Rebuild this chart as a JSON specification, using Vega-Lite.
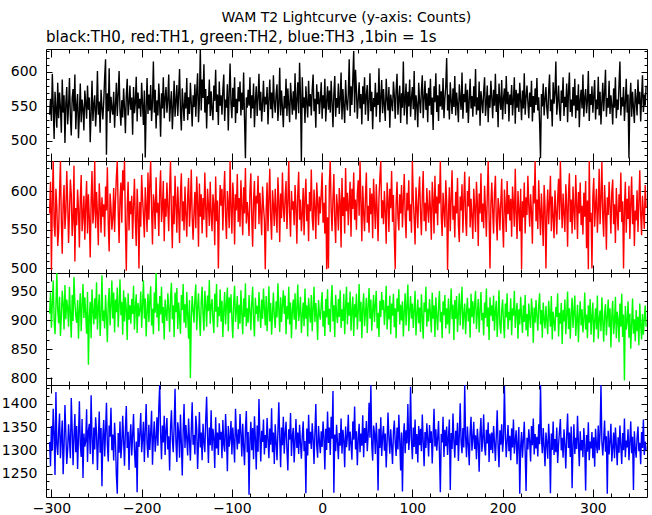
{
"$schema":"https://vega.github.io/schema/vega-lite/v6.json",
"background":"#ffffff",
"padding":{"left":0,"top":11,"right":6,"bottom":2},
"title":{"text":"WAM T2 Lightcurve (y-axis: Counts)","anchor":"middle","fontSize":14,"offset":4,"dx":22},
"config":{
 "view":{"stroke":"#000000","strokeWidth":1},
 "axis":{"grid":false,"domain":false,"tickColor":"#000000","tickWidth":1,"labelColor":"#000000","labelFont":"DejaVu Sans","labelFontSize":14,"labelOverlap":false,"labelFlush":false,"labelBound":false,"format":"d"},
 "title":{"font":"DejaVu Sans","fontWeight":"normal","color":"#000000"}
},
"data":{"values":[
{"t":-302,"a":538,"b":571,"c":912,"d":1318},{"t":-301,"a":561,"b":612,"c":948,"d":1266},{"t":-300,"a":529,"b":498,"c":887,"d":1352},{"t":-299,"a":597,"b":587,"c":930,"d":1301},{"t":-298,"a":552,"b":639,"c":969,"d":1389},{"t":-297,"a":503,"b":556,"c":901,"d":1334},{"t":-296,"a":571,"b":541,"c":876,"d":1247},{"t":-295,"a":546,"b":603,"c":925,"d":1425},{"t":-294,"a":519,"b":580,"c":982,"d":1312},{"t":-293,"a":584,"b":529,"c":918,"d":1290},
{"t":-292,"a":533,"b":548,"c":895,"d":1341},{"t":-291,"a":570,"b":597,"c":941,"d":1379},{"t":-290,"a":548,"b":639,"c":873,"d":1283},{"t":-289,"a":512,"b":562,"c":907,"d":1327},{"t":-288,"a":589,"b":519,"c":951,"d":1364},{"t":-287,"a":541,"b":584,"c":928,"d":1249},{"t":-286,"a":566,"b":608,"c":884,"d":1309},{"t":-285,"a":497,"b":551,"c":961,"d":1397},{"t":-284,"a":555,"b":573,"c":902,"d":1336},{"t":-283,"a":578,"b":626,"c":936,"d":1271},
{"t":-282,"a":524,"b":587,"c":922,"d":1301},{"t":-281,"a":549,"b":533,"c":889,"d":1356},{"t":-280,"a":591,"b":571,"c":958,"d":1322},{"t":-279,"a":536,"b":615,"c":913,"d":1283},{"t":-278,"a":508,"b":596,"c":870,"d":1412},{"t":-277,"a":562,"b":542,"c":944,"d":1345},{"t":-276,"a":575,"b":563,"c":899,"d":1268},{"t":-275,"a":543,"b":633,"c":975,"d":1330},{"t":-274,"a":596,"b":509,"c":931,"d":1378},{"t":-273,"a":517,"b":578,"c":908,"d":1296},
{"t":-272,"a":551,"b":556,"c":896,"d":1352},{"t":-271,"a":568,"b":602,"c":935,"d":1260},{"t":-270,"a":504,"b":577,"c":868,"d":1329},{"t":-269,"a":539,"b":527,"c":919,"d":1405},{"t":-268,"a":583,"b":589,"c":947,"d":1313},{"t":-267,"a":527,"b":621,"c":881,"d":1286},{"t":-266,"a":560,"b":548,"c":927,"d":1367},{"t":-265,"a":547,"b":569,"c":963,"d":1241},{"t":-264,"a":515,"b":594,"c":904,"d":1336},{"t":-263,"a":573,"b":537,"c":940,"d":1308},
{"t":-262,"a":556,"b":581,"c":911,"d":1319},{"t":-261,"a":532,"b":613,"c":877,"d":1388},{"t":-260,"a":580,"b":545,"c":949,"d":1275},{"t":-259,"a":545,"b":596,"c":823,"d":1342},{"t":-258,"a":563,"b":565,"c":906,"d":1357},{"t":-257,"a":498,"b":514,"c":932,"d":1292},{"t":-256,"a":541,"b":587,"c":869,"d":1418},{"t":-255,"a":587,"b":626,"c":954,"d":1326},{"t":-254,"a":529,"b":558,"c":916,"d":1270},{"t":-253,"a":553,"b":574,"c":893,"d":1349},
{"t":-252,"a":566,"b":639,"c":938,"d":1302},{"t":-251,"a":521,"b":552,"c":902,"d":1371},{"t":-250,"a":548,"b":599,"c":966,"d":1336},{"t":-249,"a":601,"b":571,"c":884,"d":1258},{"t":-248,"a":538,"b":530,"c":921,"d":1324},{"t":-247,"a":557,"b":610,"c":945,"d":1383},{"t":-246,"a":512,"b":584,"c":873,"d":1295},{"t":-245,"a":574,"b":546,"c":910,"d":1348},{"t":-244,"a":549,"b":592,"c":978,"d":1223},{"t":-243,"a":531,"b":567,"c":899,"d":1331},
{"t":-242,"a":557,"b":583,"c":917,"d":1365},{"t":-241,"a":592,"b":541,"c":886,"d":1287},{"t":-240,"a":618,"b":606,"c":944,"d":1341},{"t":-239,"a":480,"b":575,"c":907,"d":1402},{"t":-238,"a":569,"b":631,"c":862,"d":1312},{"t":-237,"a":543,"b":558,"c":931,"d":1276},{"t":-236,"a":605,"b":522,"c":956,"d":1353},{"t":-235,"a":526,"b":597,"c":891,"d":1329},{"t":-234,"a":564,"b":579,"c":925,"d":1391},{"t":-233,"a":547,"b":550,"c":969,"d":1300},
{"t":-232,"a":538,"b":565,"c":903,"d":1334},{"t":-231,"a":571,"b":604,"c":948,"d":1278},{"t":-230,"a":519,"b":547,"c":879,"d":1359},{"t":-229,"a":552,"b":588,"c":936,"d":1318},{"t":-228,"a":584,"b":619,"c":914,"d":1246},{"t":-227,"a":536,"b":639,"c":957,"d":1207},{"t":-226,"a":567,"b":574,"c":888,"d":1337},{"t":-225,"a":601,"b":533,"c":923,"d":1295},{"t":-224,"a":544,"b":590,"c":971,"d":1362},{"t":-223,"a":522,"b":611,"c":909,"d":1283},
{"t":-222,"a":559,"b":559,"c":932,"d":1313},{"t":-221,"a":534,"b":627,"c":875,"d":1374},{"t":-220,"a":576,"b":601,"c":952,"d":1321},{"t":-219,"a":548,"b":639,"c":898,"d":1267},{"t":-218,"a":511,"b":556,"c":940,"d":1346},{"t":-217,"a":566,"b":497,"c":919,"d":1395},{"t":-216,"a":590,"b":578,"c":866,"d":1305},{"t":-215,"a":537,"b":612,"c":947,"d":1340},{"t":-214,"a":553,"b":549,"c":901,"d":1258},{"t":-213,"a":580,"b":587,"c":926,"d":1327},
{"t":-212,"a":545,"b":570,"c":894,"d":1356},{"t":-211,"a":563,"b":594,"c":937,"d":1289},{"t":-210,"a":509,"b":538,"c":911,"d":1332},{"t":-209,"a":578,"b":581,"c":960,"d":1378},{"t":-208,"a":540,"b":616,"c":884,"d":1301},{"t":-207,"a":555,"b":562,"c":922,"d":1263},{"t":-206,"a":593,"b":529,"c":945,"d":1319},{"t":-205,"a":528,"b":603,"c":878,"d":1210},{"t":-204,"a":570,"b":575,"c":930,"d":1348},{"t":-203,"a":547,"b":500,"c":907,"d":1307},
{"t":-202,"a":561,"b":586,"c":918,"d":1337},{"t":-201,"a":535,"b":554,"c":950,"d":1380},{"t":-200,"a":584,"b":621,"c":887,"d":1296},{"t":-199,"a":552,"b":591,"c":927,"d":1325},{"t":-198,"a":523,"b":568,"c":969,"d":1361},{"t":-197,"a":573,"b":540,"c":903,"d":1275},{"t":-196,"a":476,"b":605,"c":938,"d":1343},{"t":-195,"a":548,"b":579,"c":872,"d":1399},{"t":-194,"a":591,"b":547,"c":915,"d":1314},{"t":-193,"a":539,"b":624,"c":946,"d":1284},
{"t":-192,"a":567,"b":563,"c":897,"d":1355},{"t":-191,"a":544,"b":609,"c":934,"d":1301},{"t":-190,"a":581,"b":639,"c":959,"d":1338},{"t":-189,"a":529,"b":576,"c":891,"d":1385},{"t":-188,"a":556,"b":531,"c":920,"d":1269},{"t":-187,"a":615,"b":596,"c":876,"d":1329},{"t":-186,"a":541,"b":584,"c":948,"d":1362},{"t":-185,"a":574,"b":551,"c":913,"d":1297},{"t":-184,"a":518,"b":618,"c":982,"d":1324},{"t":-183,"a":559,"b":572,"c":905,"d":1371},
{"t":-182,"a":537,"b":585,"c":929,"d":1310},{"t":-181,"a":583,"b":542,"c":881,"d":1392},{"t":-180,"a":552,"b":599,"c":942,"d":1440},{"t":-179,"a":506,"b":627,"c":910,"d":1336},{"t":-178,"a":569,"b":560,"c":958,"d":1281},{"t":-177,"a":547,"b":578,"c":895,"d":1353},{"t":-176,"a":592,"b":613,"c":923,"d":1317},{"t":-175,"a":533,"b":535,"c":867,"d":1374},{"t":-174,"a":562,"b":590,"c":936,"d":1290},{"t":-173,"a":578,"b":567,"c":912,"d":1343},
{"t":-172,"a":541,"b":611,"c":899,"d":1369},{"t":-171,"a":560,"b":579,"c":947,"d":1302},{"t":-170,"a":596,"b":548,"c":921,"d":1330},{"t":-169,"a":528,"b":603,"c":880,"d":1257},{"t":-168,"a":554,"b":639,"c":939,"d":1348},{"t":-167,"a":572,"b":570,"c":965,"d":1386},{"t":-166,"a":517,"b":526,"c":902,"d":1323},{"t":-165,"a":548,"b":594,"c":926,"d":1296},{"t":-164,"a":587,"b":557,"c":871,"d":1351},{"t":-163,"a":535,"b":620,"c":948,"d":1432},
{"t":-162,"a":558,"b":582,"c":914,"d":1318},{"t":-161,"a":581,"b":546,"c":956,"d":1275},{"t":-160,"a":536,"b":606,"c":885,"d":1360},{"t":-159,"a":567,"b":575,"c":931,"d":1339},{"t":-158,"a":604,"b":533,"c":906,"d":1284},{"t":-157,"a":543,"b":598,"c":877,"d":1377},{"t":-156,"a":515,"b":623,"c":944,"d":1315},{"t":-155,"a":576,"b":561,"c":918,"d":1246},{"t":-154,"a":552,"b":587,"c":963,"d":1342},{"t":-153,"a":529,"b":549,"c":896,"d":1399},
{"t":-152,"a":570,"b":606,"c":928,"d":1305},{"t":-151,"a":547,"b":570,"c":887,"d":1354},{"t":-150,"a":591,"b":541,"c":949,"d":1326},{"t":-149,"a":530,"b":593,"c":911,"d":1289},{"t":-148,"a":563,"b":617,"c":868,"d":1368},{"t":-147,"a":539,"b":554,"c":935,"d":1321},{"t":-146,"a":584,"b":580,"c":800,"d":1278},{"t":-145,"a":555,"b":628,"c":904,"d":1345},{"t":-144,"a":521,"b":566,"c":942,"d":1403},{"t":-143,"a":566,"b":537,"c":917,"d":1312},
{"t":-142,"a":549,"b":574,"c":896,"d":1333},{"t":-141,"a":582,"b":599,"c":939,"d":1291},{"t":-140,"a":535,"b":552,"c":962,"d":1374},{"t":-139,"a":571,"b":619,"c":883,"d":1347},{"t":-138,"a":598,"b":585,"c":921,"d":1260},{"t":-137,"a":527,"b":528,"c":947,"d":1319},{"t":-136,"a":557,"b":610,"c":905,"d":1382},{"t":-135,"a":633,"b":567,"c":873,"d":1306},{"t":-134,"a":544,"b":596,"c":932,"d":1338},{"t":-133,"a":589,"b":545,"c":958,"d":1279},
{"t":-132,"a":562,"b":591,"c":910,"d":1357},{"t":-131,"a":611,"b":563,"c":882,"d":1318},{"t":-130,"a":541,"b":624,"c":951,"d":1296},{"t":-129,"a":575,"b":577,"c":928,"d":1365},{"t":-128,"a":518,"b":540,"c":889,"d":1415},{"t":-127,"a":565,"b":603,"c":943,"d":1330},{"t":-126,"a":553,"b":582,"c":916,"d":1273},{"t":-125,"a":589,"b":555,"c":970,"d":1349},{"t":-124,"a":536,"b":612,"c":894,"d":1311},{"t":-123,"a":572,"b":570,"c":925,"d":1386},
{"t":-122,"a":545,"b":548,"c":937,"d":1299},{"t":-121,"a":530,"b":596,"c":901,"d":1346},{"t":-120,"a":580,"b":583,"c":878,"d":1327},{"t":-119,"a":558,"b":530,"c":946,"d":1262},{"t":-118,"a":603,"b":619,"c":915,"d":1371},{"t":-117,"a":542,"b":561,"c":963,"d":1304},{"t":-116,"a":567,"b":588,"c":888,"d":1338},{"t":-115,"a":523,"b":500,"c":923,"d":1290},{"t":-114,"a":586,"b":572,"c":907,"d":1358},{"t":-113,"a":551,"b":608,"c":954,"d":1323},
{"t":-112,"a":566,"b":581,"c":898,"d":1340},{"t":-111,"a":538,"b":603,"c":934,"d":1283},{"t":-110,"a":574,"b":549,"c":871,"d":1365},{"t":-109,"a":596,"b":594,"c":919,"d":1312},{"t":-108,"a":529,"b":626,"c":949,"d":1297},{"t":-107,"a":560,"b":567,"c":893,"d":1378},{"t":-106,"a":548,"b":538,"c":928,"d":1331},{"t":-105,"a":582,"b":600,"c":957,"d":1255},{"t":-104,"a":515,"b":583,"c":881,"d":1352},{"t":-103,"a":569,"b":552,"c":940,"d":1308},
{"t":-102,"a":612,"b":639,"c":913,"d":1326},{"t":-101,"a":554,"b":577,"c":945,"d":1363},{"t":-100,"a":533,"b":545,"c":902,"d":1291},{"t":-99,"a":577,"b":611,"c":869,"d":1349},{"t":-98,"a":549,"b":589,"c":931,"d":1317},{"t":-97,"a":592,"b":531,"c":960,"d":1274},{"t":-96,"a":526,"b":596,"c":897,"d":1389},{"t":-95,"a":561,"b":575,"c":918,"d":1336},{"t":-94,"a":540,"b":622,"c":942,"d":1302},{"t":-93,"a":578,"b":560,"c":885,"d":1345},
{"t":-92,"a":557,"b":591,"c":927,"d":1314},{"t":-91,"a":586,"b":554,"c":894,"d":1378},{"t":-90,"a":537,"b":614,"c":952,"d":1335},{"t":-89,"a":570,"b":580,"c":911,"d":1287},{"t":-88,"a":545,"b":543,"c":876,"d":1357},{"t":-87,"a":599,"b":605,"c":938,"d":1309},{"t":-86,"a":531,"b":571,"c":906,"d":1268},{"t":-85,"a":475,"b":630,"c":964,"d":1346},{"t":-84,"a":563,"b":558,"c":890,"d":1384},{"t":-83,"a":548,"b":586,"c":921,"d":1296},
{"t":-82,"a":574,"b":569,"c":896,"d":1339},{"t":-81,"a":551,"b":542,"c":944,"d":1205},{"t":-80,"a":592,"b":600,"c":917,"d":1322},{"t":-79,"a":533,"b":623,"c":883,"d":1361},{"t":-78,"a":566,"b":566,"c":930,"d":1300},{"t":-77,"a":547,"b":528,"c":958,"d":1348},{"t":-76,"a":583,"b":589,"c":901,"d":1281},{"t":-75,"a":520,"b":613,"c":872,"d":1373},{"t":-74,"a":558,"b":551,"c":939,"d":1326},{"t":-73,"a":579,"b":594,"c":911,"d":1259},
{"t":-72,"a":536,"b":584,"c":925,"d":1353},{"t":-71,"a":563,"b":620,"c":898,"d":1297},{"t":-70,"a":597,"b":557,"c":949,"d":1410},{"t":-69,"a":544,"b":598,"c":913,"d":1330},{"t":-68,"a":571,"b":572,"c":887,"d":1276},{"t":-67,"a":528,"b":543,"c":936,"d":1342},{"t":-66,"a":555,"b":606,"c":903,"d":1318},{"t":-65,"a":587,"b":580,"c":955,"d":1366},{"t":-64,"a":542,"b":563,"c":920,"d":1291},{"t":-63,"a":564,"b":499,"c":891,"d":1333},
{"t":-62,"a":553,"b":576,"c":942,"d":1305},{"t":-61,"a":578,"b":611,"c":881,"d":1369},{"t":-60,"a":524,"b":548,"c":916,"d":1324},{"t":-59,"a":560,"b":590,"c":959,"d":1283},{"t":-58,"a":589,"b":629,"c":898,"d":1347},{"t":-57,"a":546,"b":565,"c":930,"d":1312},{"t":-56,"a":570,"b":537,"c":875,"d":1390},{"t":-55,"a":533,"b":601,"c":912,"d":1296},{"t":-54,"a":595,"b":582,"c":948,"d":1338},{"t":-53,"a":556,"b":555,"c":906,"d":1271},
{"t":-52,"a":541,"b":603,"c":887,"d":1356},{"t":-51,"a":568,"b":574,"c":933,"d":1318},{"t":-50,"a":582,"b":546,"c":905,"d":1279},{"t":-49,"a":529,"b":618,"c":964,"d":1341},{"t":-48,"a":554,"b":588,"c":919,"d":1403},{"t":-47,"a":606,"b":534,"c":880,"d":1327},{"t":-46,"a":537,"b":597,"c":940,"d":1264},{"t":-45,"a":573,"b":565,"c":897,"d":1349},{"t":-44,"a":549,"b":624,"c":926,"d":1311},{"t":-43,"a":520,"b":579,"c":952,"d":1372},
{"t":-42,"a":565,"b":560,"c":911,"d":1293},{"t":-41,"a":547,"b":592,"c":943,"d":1336},{"t":-40,"a":590,"b":613,"c":876,"d":1361},{"t":-39,"a":536,"b":551,"c":925,"d":1302},{"t":-38,"a":576,"b":584,"c":902,"d":1257},{"t":-37,"a":552,"b":639,"c":958,"d":1345},{"t":-36,"a":527,"b":570,"c":893,"d":1323},{"t":-35,"a":584,"b":541,"c":931,"d":1380},{"t":-34,"a":561,"b":600,"c":869,"d":1288},{"t":-33,"a":538,"b":576,"c":917,"d":1330},
{"t":-32,"a":572,"b":587,"c":936,"d":1348},{"t":-31,"a":544,"b":556,"c":901,"d":1274},{"t":-30,"a":598,"b":608,"c":947,"d":1319},{"t":-29,"a":531,"b":579,"c":884,"d":1367},{"t":-28,"a":559,"b":532,"c":920,"d":1305},{"t":-27,"a":585,"b":597,"c":962,"d":1338},{"t":-26,"a":540,"b":625,"c":899,"d":1292},{"t":-25,"a":613,"b":563,"c":914,"d":1355},{"t":-24,"a":566,"b":589,"c":941,"d":1316},{"t":-23,"a":471,"b":548,"c":878,"d":1282},
{"t":-22,"a":592,"b":571,"c":908,"d":1331},{"t":-21,"a":548,"b":604,"c":931,"d":1362},{"t":-20,"a":563,"b":543,"c":890,"d":1298},{"t":-19,"a":526,"b":590,"c":955,"d":1320},{"t":-18,"a":579,"b":616,"c":903,"d":1208},{"t":-17,"a":555,"b":561,"c":926,"d":1347},{"t":-16,"a":534,"b":583,"c":872,"d":1289},{"t":-15,"a":587,"b":535,"c":939,"d":1376},{"t":-14,"a":550,"b":599,"c":915,"d":1314},{"t":-13,"a":568,"b":574,"c":896,"d":1340},
{"t":-12,"a":537,"b":628,"c":944,"d":1303},{"t":-11,"a":574,"b":566,"c":881,"d":1358},{"t":-10,"a":596,"b":549,"c":919,"d":1325},{"t":-9,"a":543,"b":602,"c":958,"d":1271},{"t":-8,"a":561,"b":580,"c":897,"d":1337},{"t":-7,"a":519,"b":538,"c":930,"d":1399},{"t":-6,"a":582,"b":611,"c":908,"d":1310},{"t":-5,"a":553,"b":587,"c":866,"d":1284},{"t":-4,"a":571,"b":556,"c":935,"d":1352},{"t":-3,"a":539,"b":593,"c":912,"d":1319},
{"t":-2,"a":560,"b":571,"c":901,"d":1294},{"t":-1,"a":585,"b":597,"c":927,"d":1341},{"t":0,"a":532,"b":624,"c":949,"d":1307},{"t":1,"a":566,"b":559,"c":889,"d":1362},{"t":2,"a":547,"b":585,"c":916,"d":1328},{"t":3,"a":590,"b":545,"c":873,"d":1259},{"t":4,"a":528,"b":608,"c":937,"d":1346},{"t":5,"a":557,"b":499,"c":905,"d":1301},{"t":6,"a":579,"b":566,"c":954,"d":1383},{"t":7,"a":545,"b":500,"c":892,"d":1316},
{"t":8,"a":573,"b":611,"c":920,"d":1349},{"t":9,"a":541,"b":639,"c":880,"d":1290},{"t":10,"a":587,"b":576,"c":933,"d":1372},{"t":11,"a":556,"b":548,"c":961,"d":1325},{"t":12,"a":520,"b":590,"c":898,"d":1427},{"t":13,"a":568,"b":622,"c":926,"d":1209},{"t":14,"a":594,"b":561,"c":871,"d":1334},{"t":15,"a":535,"b":533,"c":944,"d":1298},{"t":16,"a":562,"b":596,"c":910,"d":1355},{"t":17,"a":548,"b":579,"c":895,"d":1318},
{"t":18,"a":583,"b":549,"c":937,"d":1281},{"t":19,"a":539,"b":604,"c":906,"d":1337},{"t":20,"a":561,"b":587,"c":952,"d":1310},{"t":21,"a":599,"b":527,"c":887,"d":1368},{"t":22,"a":531,"b":617,"c":919,"d":1293},{"t":23,"a":575,"b":568,"c":899,"d":1344},{"t":24,"a":550,"b":592,"c":946,"d":1322},{"t":25,"a":526,"b":545,"c":876,"d":1264},{"t":26,"a":588,"b":630,"c":924,"d":1351},{"t":27,"a":557,"b":574,"c":958,"d":1307},
{"t":28,"a":544,"b":598,"c":893,"d":1329},{"t":29,"a":568,"b":556,"c":931,"d":1376},{"t":30,"a":618,"b":585,"c":908,"d":1299},{"t":31,"a":536,"b":612,"c":950,"d":1340},{"t":32,"a":579,"b":541,"c":882,"d":1315},{"t":33,"a":552,"b":603,"c":917,"d":1280},{"t":34,"a":590,"b":577,"c":941,"d":1362},{"t":35,"a":630,"b":624,"c":873,"d":1323},{"t":36,"a":541,"b":563,"c":928,"d":1394},{"t":37,"a":603,"b":589,"c":905,"d":1302},
{"t":38,"a":574,"b":550,"c":946,"d":1341},{"t":39,"a":532,"b":597,"c":884,"d":1268},{"t":40,"a":560,"b":614,"c":915,"d":1325},{"t":41,"a":585,"b":568,"c":963,"d":1357},{"t":42,"a":547,"b":639,"c":898,"d":1296},{"t":43,"a":568,"b":586,"c":932,"d":1336},{"t":44,"a":524,"b":535,"c":869,"d":1310},{"t":45,"a":579,"b":607,"c":921,"d":1375},{"t":46,"a":553,"b":572,"c":947,"d":1285},{"t":47,"a":592,"b":548,"c":890,"d":1348},
{"t":48,"a":538,"b":593,"c":912,"d":1316},{"t":49,"a":566,"b":624,"c":939,"d":1363},{"t":50,"a":581,"b":559,"c":878,"d":1298},{"t":51,"a":529,"b":581,"c":924,"d":1333},{"t":52,"a":556,"b":546,"c":956,"d":1402},{"t":53,"a":598,"b":604,"c":903,"d":1327},{"t":54,"a":543,"b":570,"c":936,"d":1440},{"t":55,"a":571,"b":597,"c":882,"d":1312},{"t":56,"a":517,"b":539,"c":917,"d":1278},{"t":57,"a":562,"b":616,"c":944,"d":1353},
{"t":58,"a":549,"b":582,"c":897,"d":1337},{"t":59,"a":584,"b":551,"c":928,"d":1292},{"t":60,"a":535,"b":609,"c":951,"d":1359},{"t":61,"a":570,"b":576,"c":886,"d":1318},{"t":62,"a":552,"b":535,"c":913,"d":1214},{"t":63,"a":605,"b":592,"c":871,"d":1346},{"t":64,"a":527,"b":618,"c":934,"d":1305},{"t":65,"a":563,"b":639,"c":906,"d":1371},{"t":66,"a":588,"b":565,"c":949,"d":1288},{"t":67,"a":540,"b":588,"c":918,"d":1329},
{"t":68,"a":575,"b":557,"c":935,"d":1352},{"t":69,"a":552,"b":600,"c":892,"d":1299},{"t":70,"a":529,"b":574,"c":917,"d":1336},{"t":71,"a":590,"b":532,"c":960,"d":1263},{"t":72,"a":561,"b":611,"c":884,"d":1318},{"t":73,"a":544,"b":589,"c":925,"d":1381},{"t":74,"a":578,"b":547,"c":902,"d":1327},{"t":75,"a":519,"b":603,"c":943,"d":1293},{"t":76,"a":567,"b":578,"c":876,"d":1345},{"t":77,"a":555,"b":626,"c":929,"d":1310},
{"t":78,"a":543,"b":560,"c":908,"d":1271},{"t":79,"a":586,"b":595,"c":946,"d":1339},{"t":80,"a":566,"b":541,"c":888,"d":1364},{"t":81,"a":532,"b":499,"c":921,"d":1316},{"t":82,"a":574,"b":584,"c":869,"d":1288},{"t":83,"a":597,"b":612,"c":938,"d":1349},{"t":84,"a":538,"b":567,"c":915,"d":1302},{"t":85,"a":561,"b":549,"c":954,"d":1376},{"t":86,"a":580,"b":596,"c":893,"d":1322},{"t":87,"a":526,"b":571,"c":927,"d":1257},
{"t":88,"a":569,"b":608,"c":900,"d":1338},{"t":89,"a":548,"b":553,"c":933,"d":1212},{"t":90,"a":615,"b":587,"c":872,"d":1327},{"t":91,"a":537,"b":622,"c":914,"d":1358},{"t":92,"a":559,"b":569,"c":947,"d":1294},{"t":93,"a":583,"b":539,"c":891,"d":1343},{"t":94,"a":524,"b":598,"c":925,"d":1315},{"t":95,"a":571,"b":575,"c":962,"d":1399},{"t":96,"a":550,"b":614,"c":881,"d":1301},{"t":97,"a":589,"b":561,"c":916,"d":1330},
{"t":98,"a":535,"b":583,"c":942,"d":1436},{"t":99,"a":562,"b":546,"c":903,"d":1320},{"t":100,"a":578,"b":639,"c":929,"d":1281},{"t":101,"a":546,"b":590,"c":887,"d":1349},{"t":102,"a":601,"b":564,"c":919,"d":1307},{"t":103,"a":530,"b":531,"c":951,"d":1366},{"t":104,"a":566,"b":605,"c":874,"d":1292},{"t":105,"a":553,"b":580,"c":910,"d":1335},{"t":106,"a":520,"b":552,"c":936,"d":1274},{"t":107,"a":584,"b":597,"c":895,"d":1352},
{"t":108,"a":558,"b":619,"c":922,"d":1311},{"t":109,"a":540,"b":572,"c":880,"d":1346},{"t":110,"a":573,"b":543,"c":945,"d":1298},{"t":111,"a":595,"b":593,"c":906,"d":1377},{"t":112,"a":533,"b":626,"c":868,"d":1320},{"t":113,"a":561,"b":561,"c":931,"d":1266},{"t":114,"a":587,"b":585,"c":914,"d":1339},{"t":115,"a":545,"b":548,"c":958,"d":1305},{"t":116,"a":569,"b":604,"c":889,"d":1358},{"t":117,"a":527,"b":577,"c":920,"d":1324},
{"t":118,"a":577,"b":559,"c":898,"d":1287},{"t":119,"a":551,"b":601,"c":937,"d":1354},{"t":120,"a":590,"b":578,"c":912,"d":1316},{"t":121,"a":538,"b":537,"c":879,"d":1341},{"t":122,"a":563,"b":612,"c":948,"d":1272},{"t":123,"a":516,"b":588,"c":903,"d":1332},{"t":124,"a":579,"b":545,"c":926,"d":1389},{"t":125,"a":556,"b":620,"c":871,"d":1308},{"t":126,"a":598,"b":571,"c":940,"d":1345},{"t":127,"a":542,"b":593,"c":907,"d":1299},
{"t":128,"a":566,"b":556,"c":883,"d":1326},{"t":129,"a":529,"b":609,"c":924,"d":1363},{"t":130,"a":582,"b":584,"c":951,"d":1294},{"t":131,"a":550,"b":639,"c":897,"d":1210},{"t":132,"a":572,"b":567,"c":915,"d":1335},{"t":133,"a":545,"b":542,"c":869,"d":1317},{"t":134,"a":591,"b":598,"c":933,"d":1372},{"t":135,"a":533,"b":576,"c":909,"d":1286},{"t":136,"a":561,"b":553,"c":944,"d":1344},{"t":137,"a":579,"b":614,"c":886,"d":1309},
{"t":138,"a":620,"b":587,"c":921,"d":1351},{"t":139,"a":544,"b":498,"c":893,"d":1290},{"t":140,"a":567,"b":572,"c":938,"d":1328},{"t":141,"a":531,"b":605,"c":877,"d":1366},{"t":142,"a":585,"b":548,"c":916,"d":1215},{"t":143,"a":558,"b":590,"c":955,"d":1337},{"t":144,"a":539,"b":627,"c":902,"d":1303},{"t":145,"a":576,"b":563,"c":927,"d":1379},{"t":146,"a":549,"b":581,"c":866,"d":1320},{"t":147,"a":594,"b":540,"c":935,"d":1284},
{"t":148,"a":537,"b":599,"c":903,"d":1342},{"t":149,"a":570,"b":571,"c":942,"d":1311},{"t":150,"a":553,"b":617,"c":880,"d":1359},{"t":151,"a":527,"b":556,"c":912,"d":1277},{"t":152,"a":582,"b":534,"c":947,"d":1333},{"t":153,"a":561,"b":593,"c":891,"d":1401},{"t":154,"a":545,"b":575,"c":924,"d":1318},{"t":155,"a":599,"b":609,"c":958,"d":1294},{"t":156,"a":532,"b":546,"c":884,"d":1348},{"t":157,"a":568,"b":588,"c":910,"d":1306},
{"t":158,"a":556,"b":625,"c":929,"d":1440},{"t":159,"a":583,"b":564,"c":876,"d":1327},{"t":160,"a":541,"b":542,"c":915,"d":1285},{"t":161,"a":574,"b":600,"c":939,"d":1351},{"t":162,"a":526,"b":580,"c":898,"d":1314},{"t":163,"a":559,"b":619,"c":921,"d":1268},{"t":164,"a":590,"b":553,"c":870,"d":1339},{"t":165,"a":547,"b":590,"c":946,"d":1372},{"t":166,"a":565,"b":567,"c":906,"d":1299},{"t":167,"a":535,"b":538,"c":933,"d":1325},
{"t":168,"a":579,"b":603,"c":894,"d":1361},{"t":169,"a":550,"b":578,"c":928,"d":1303},{"t":170,"a":604,"b":547,"c":951,"d":1332},{"t":171,"a":538,"b":612,"c":885,"d":1281},{"t":172,"a":563,"b":586,"c":912,"d":1346},{"t":173,"a":544,"b":529,"c":937,"d":1318},{"t":174,"a":586,"b":597,"c":879,"d":1254},{"t":175,"a":522,"b":571,"c":917,"d":1336},{"t":176,"a":572,"b":623,"c":949,"d":1369},{"t":177,"a":557,"b":560,"c":900,"d":1297},
{"t":178,"a":540,"b":584,"c":913,"d":1323},{"t":179,"a":571,"b":552,"c":874,"d":1377},{"t":180,"a":592,"b":607,"c":931,"d":1308},{"t":181,"a":536,"b":576,"c":904,"d":1289},{"t":182,"a":555,"b":541,"c":955,"d":1344},{"t":183,"a":580,"b":592,"c":889,"d":1315},{"t":184,"a":527,"b":639,"c":922,"d":1360},{"t":185,"a":566,"b":568,"c":866,"d":1275},{"t":186,"a":548,"b":500,"c":940,"d":1336},{"t":187,"a":587,"b":583,"c":908,"d":1301},
{"t":188,"a":563,"b":611,"c":926,"d":1338},{"t":189,"a":533,"b":574,"c":899,"d":1294},{"t":190,"a":574,"b":545,"c":943,"d":1352},{"t":191,"a":551,"b":598,"c":882,"d":1319},{"t":192,"a":597,"b":620,"c":916,"d":1277},{"t":193,"a":542,"b":563,"c":934,"d":1331},{"t":194,"a":568,"b":536,"c":871,"d":1386},{"t":195,"a":520,"b":591,"c":909,"d":1307},{"t":196,"a":583,"b":579,"c":952,"d":1264},{"t":197,"a":558,"b":549,"c":892,"d":1343},
{"t":198,"a":545,"b":585,"c":877,"d":1312},{"t":199,"a":588,"b":616,"c":918,"d":1356},{"t":200,"a":531,"b":558,"c":936,"d":1297},{"t":201,"a":562,"b":527,"c":896,"d":1325},{"t":202,"a":576,"b":602,"c":869,"d":1438},{"t":203,"a":539,"b":581,"c":929,"d":1338},{"t":204,"a":594,"b":547,"c":905,"d":1285},{"t":205,"a":553,"b":613,"c":947,"d":1320},{"t":206,"a":571,"b":570,"c":884,"d":1354},{"t":207,"a":528,"b":595,"c":915,"d":1298},
{"t":208,"a":567,"b":562,"c":900,"d":1331},{"t":209,"a":552,"b":590,"c":938,"d":1279},{"t":210,"a":581,"b":541,"c":874,"d":1347},{"t":211,"a":537,"b":606,"c":921,"d":1306},{"t":212,"a":560,"b":583,"c":908,"d":1366},{"t":213,"a":592,"b":554,"c":951,"d":1293},{"t":214,"a":525,"b":629,"c":887,"d":1322},{"t":215,"a":574,"b":572,"c":913,"d":1343},{"t":216,"a":548,"b":538,"c":930,"d":1270},{"t":217,"a":569,"b":600,"c":868,"d":1317},
{"t":218,"a":542,"b":576,"c":919,"d":1350},{"t":219,"a":584,"b":548,"c":893,"d":1207},{"t":220,"a":559,"b":603,"c":941,"d":1309},{"t":221,"a":530,"b":499,"c":906,"d":1339},{"t":222,"a":573,"b":587,"c":878,"d":1284},{"t":223,"a":547,"b":566,"c":926,"d":1323},{"t":224,"a":598,"b":611,"c":897,"d":1361},{"t":225,"a":538,"b":545,"c":944,"d":1296},{"t":226,"a":563,"b":592,"c":883,"d":1213},{"t":227,"a":580,"b":569,"c":911,"d":1327},
{"t":228,"a":556,"b":620,"c":872,"d":1302},{"t":229,"a":533,"b":581,"c":929,"d":1345},{"t":230,"a":570,"b":554,"c":904,"d":1319},{"t":231,"a":549,"b":596,"c":887,"d":1276},{"t":232,"a":587,"b":573,"c":938,"d":1352},{"t":233,"a":528,"b":532,"c":915,"d":1311},{"t":234,"a":565,"b":607,"c":861,"d":1368},{"t":235,"a":541,"b":584,"c":922,"d":1291},{"t":236,"a":576,"b":639,"c":896,"d":1335},{"t":237,"a":552,"b":561,"c":935,"d":1304},
{"t":238,"a":591,"b":589,"c":908,"d":1329},{"t":239,"a":544,"b":551,"c":882,"d":1287},{"t":240,"a":563,"b":614,"c":926,"d":1356},{"t":241,"a":526,"b":576,"c":947,"d":1313},{"t":242,"a":475,"b":543,"c":893,"d":1440},{"t":243,"a":568,"b":597,"c":918,"d":1327},{"t":244,"a":550,"b":566,"c":870,"d":1294},{"t":245,"a":583,"b":529,"c":931,"d":1348},{"t":246,"a":537,"b":608,"c":902,"d":1307},{"t":247,"a":561,"b":580,"c":886,"d":1266},
{"t":248,"a":578,"b":500,"c":925,"d":1338},{"t":249,"a":547,"b":572,"c":899,"d":1315},{"t":250,"a":532,"b":602,"c":876,"d":1282},{"t":251,"a":572,"b":557,"c":934,"d":1357},{"t":252,"a":596,"b":586,"c":910,"d":1320},{"t":253,"a":543,"b":620,"c":889,"d":1208},{"t":254,"a":560,"b":548,"c":942,"d":1336},{"t":255,"a":521,"b":593,"c":867,"d":1301},{"t":256,"a":585,"b":567,"c":915,"d":1362},{"t":257,"a":554,"b":539,"c":897,"d":1290},
{"t":258,"a":569,"b":601,"c":881,"d":1324},{"t":259,"a":615,"b":575,"c":923,"d":1296},{"t":260,"a":538,"b":544,"c":906,"d":1349},{"t":261,"a":557,"b":590,"c":947,"d":1273},{"t":262,"a":580,"b":616,"c":872,"d":1312},{"t":263,"a":546,"b":563,"c":913,"d":1341},{"t":264,"a":529,"b":639,"c":894,"d":1367},{"t":265,"a":573,"b":586,"c":930,"d":1300},{"t":266,"a":555,"b":552,"c":859,"d":1327},{"t":267,"a":592,"b":597,"c":918,"d":1284},
{"t":268,"a":536,"b":571,"c":898,"d":1345},{"t":269,"a":564,"b":547,"c":936,"d":1313},{"t":270,"a":549,"b":609,"c":876,"d":1261},{"t":271,"a":583,"b":582,"c":909,"d":1332},{"t":272,"a":527,"b":528,"c":950,"d":1379},{"t":273,"a":571,"b":596,"c":885,"d":1305},{"t":274,"a":599,"b":623,"c":921,"d":1338},{"t":275,"a":542,"b":560,"c":868,"d":1286},{"t":276,"a":560,"b":589,"c":912,"d":1351},{"t":277,"a":535,"b":545,"c":939,"d":1219},
{"t":278,"a":578,"b":606,"c":887,"d":1309},{"t":279,"a":551,"b":575,"c":915,"d":1356},{"t":280,"a":590,"b":550,"c":943,"d":1292},{"t":281,"a":533,"b":621,"c":873,"d":1327},{"t":282,"a":566,"b":584,"c":900,"d":1303},{"t":283,"a":544,"b":538,"c":927,"d":1374},{"t":284,"a":582,"b":599,"c":862,"d":1315},{"t":285,"a":520,"b":571,"c":908,"d":1266},{"t":286,"a":559,"b":611,"c":933,"d":1341},{"t":287,"a":574,"b":556,"c":891,"d":1300},
{"t":288,"a":547,"b":581,"c":919,"d":1322},{"t":289,"a":596,"b":544,"c":879,"d":1285},{"t":290,"a":535,"b":598,"c":902,"d":1348},{"t":291,"a":562,"b":567,"c":948,"d":1310},{"t":292,"a":575,"b":613,"c":884,"d":1214},{"t":293,"a":540,"b":526,"c":910,"d":1333},{"t":294,"a":558,"b":588,"c":869,"d":1297},{"t":295,"a":601,"b":499,"c":926,"d":1360},{"t":296,"a":529,"b":639,"c":896,"d":1279},{"t":297,"a":568,"b":560,"c":937,"d":1319},
{"t":298,"a":552,"b":572,"c":875,"d":1304},{"t":299,"a":579,"b":500,"c":907,"d":1339},{"t":300,"a":541,"b":593,"c":931,"d":1283},{"t":301,"a":565,"b":617,"c":862,"d":1328},{"t":302,"a":588,"b":554,"c":898,"d":1265},{"t":303,"a":531,"b":582,"c":921,"d":1346},{"t":304,"a":560,"b":603,"c":884,"d":1311},{"t":305,"a":546,"b":546,"c":943,"d":1294},{"t":306,"a":593,"b":575,"c":868,"d":1353},{"t":307,"a":537,"b":629,"c":902,"d":1300},
{"t":308,"a":571,"b":557,"c":917,"d":1336},{"t":309,"a":524,"b":590,"c":881,"d":1440},{"t":310,"a":556,"b":638,"c":940,"d":1318},{"t":311,"a":584,"b":566,"c":899,"d":1289},{"t":312,"a":543,"b":541,"c":863,"d":1325},{"t":313,"a":569,"b":608,"c":912,"d":1364},{"t":314,"a":603,"b":576,"c":928,"d":1297},{"t":315,"a":535,"b":524,"c":874,"d":1330},{"t":316,"a":562,"b":592,"c":905,"d":1207},{"t":317,"a":548,"b":569,"c":936,"d":1342},
{"t":318,"a":587,"b":612,"c":888,"d":1291},{"t":319,"a":539,"b":580,"c":921,"d":1320},{"t":320,"a":566,"b":545,"c":853,"d":1357},{"t":321,"a":551,"b":599,"c":908,"d":1276},{"t":322,"a":524,"b":615,"c":934,"d":1305},{"t":323,"a":576,"b":557,"c":876,"d":1338},{"t":324,"a":548,"b":583,"c":897,"d":1283},{"t":325,"a":592,"b":533,"c":941,"d":1349},{"t":326,"a":533,"b":604,"c":869,"d":1312},{"t":327,"a":560,"b":571,"c":915,"d":1268},
{"t":328,"a":545,"b":549,"c":902,"d":1328},{"t":329,"a":582,"b":596,"c":862,"d":1295},{"t":330,"a":615,"b":573,"c":929,"d":1353},{"t":331,"a":537,"b":624,"c":889,"d":1310},{"t":332,"a":563,"b":560,"c":946,"d":1271},{"t":333,"a":550,"b":587,"c":871,"d":1337},{"t":334,"a":578,"b":500,"c":910,"d":1300},{"t":335,"a":529,"b":578,"c":796,"d":1368},{"t":336,"a":556,"b":612,"c":925,"d":1285},{"t":337,"a":590,"b":546,"c":884,"d":1321},
{"t":338,"a":541,"b":590,"c":897,"d":1306},{"t":339,"a":567,"b":564,"c":933,"d":1345},{"t":340,"a":475,"b":607,"c":870,"d":1279},{"t":341,"a":558,"b":538,"c":912,"d":1318},{"t":342,"a":584,"b":583,"c":851,"d":1362},{"t":343,"a":535,"b":619,"c":893,"d":1294},{"t":344,"a":571,"b":557,"c":938,"d":1329},{"t":345,"a":549,"b":595,"c":877,"d":1215},{"t":346,"a":526,"b":529,"c":902,"d":1341},{"t":347,"a":575,"b":575,"c":864,"d":1303},
{"t":348,"a":560,"b":562,"c":918,"d":1284},{"t":349,"a":537,"b":601,"c":881,"d":1327},{"t":350,"a":589,"b":547,"c":906,"d":1351},{"t":351,"a":553,"b":585,"c":857,"d":1298},{"t":352,"a":571,"b":627,"c":929,"d":1316},{"t":353,"a":528,"b":570,"c":892,"d":1270},{"t":354,"a":564,"b":543,"c":867,"d":1339},{"t":355,"a":595,"b":594,"c":911,"d":1305},{"t":356,"a":542,"b":573,"c":875,"d":1366},{"t":357,"a":567,"b":551,"c":903,"d":1290},{"t":358,"a":551,"b":608,"c":926,"d":1319},{"t":359,"a":580,"b":578,"c":889,"d":1301}
]},
"vconcat":[
{"width":601,"height":112,
 "title":{"text":"black:TH0, red:TH1, green:TH2, blue:TH3 ,1bin = 1s","anchor":"start","frame":"group","fontSize":15,"offset":4},
 "layer":[
  {"mark":{"type":"line","color":"#000000","strokeWidth":1.4,"clip":true},
   "encoding":{"x":{"field":"t","type":"quantitative","scale":{"domain":[-306,360],"nice":false,"zero":false},"axis":{"orient":"bottom","title":null,"labels":false,"tickSize":-8,"values":[-300,-200,-100,0,100,200,300]}},
    "y":{"field":"a","type":"quantitative","scale":{"domain":[471,633],"nice":false,"zero":false},"axis":{"orient":"left","title":null,"labels":false,"tickSize":-6,"values":[500,550,600]}}}},
  {"mark":{"type":"line","strokeOpacity":0,"clip":true},
   "encoding":{"x":{"field":"t","type":"quantitative","axis":{"orient":"top","title":null,"labels":false,"tickSize":-8,"values":[-300,-200,-100,0,100,200,300]}},
    "y":{"field":"a","type":"quantitative","axis":{"orient":"right","title":null,"labels":false,"tickSize":-6,"values":[500,550,600]}}}},
  {"mark":{"type":"line","strokeOpacity":0,"clip":true},
   "encoding":{"x":{"field":"t","type":"quantitative","axis":{"orient":"bottom","title":null,"labels":false,"tickSize":-4,"values":[-280,-260,-240,-220,-180,-160,-140,-120,-80,-60,-40,-20,20,40,60,80,120,140,160,180,220,240,260,280,320,340]}},
    "y":{"field":"a","type":"quantitative","axis":{"orient":"left","title":null,"labels":false,"tickSize":-3,"values":[480,490,510,520,530,540,560,570,580,590,610,620,630]}}}},
  {"mark":{"type":"line","strokeOpacity":0,"clip":true},
   "encoding":{"x":{"field":"t","type":"quantitative","axis":{"orient":"top","title":null,"labels":false,"tickSize":-4,"values":[-280,-260,-240,-220,-180,-160,-140,-120,-80,-60,-40,-20,20,40,60,80,120,140,160,180,220,240,260,280,320,340]}},
    "y":{"field":"a","type":"quantitative","axis":{"orient":"right","title":null,"labels":false,"tickSize":-3,"values":[480,490,510,520,530,540,560,570,580,590,610,620,630]}}}},
  {"mark":{"type":"line","strokeOpacity":0,"clip":true},
   "encoding":{"x":{"field":"t","type":"quantitative","axis":null},
    "y":{"field":"a","type":"quantitative","axis":{"orient":"left","title":null,"ticks":false,"labelPadding":9,"values":[500,550,600]}}}}
 ],
 "resolve":{"axis":{"x":"independent","y":"independent"}}
},
{"width":601,"height":112,
 "layer":[
  {"mark":{"type":"line","color":"#ff0000","strokeWidth":1.4,"clip":true},
   "encoding":{"x":{"field":"t","type":"quantitative","scale":{"domain":[-306,360],"nice":false,"zero":false},"axis":{"orient":"bottom","title":null,"labels":false,"tickSize":-8,"values":[-300,-200,-100,0,100,200,300]}},
    "y":{"field":"b","type":"quantitative","scale":{"domain":[494,639],"nice":false,"zero":false},"axis":{"orient":"left","title":null,"labels":false,"tickSize":-6,"values":[500,550,600]}}}},
  {"mark":{"type":"line","strokeOpacity":0,"clip":true},
   "encoding":{"x":{"field":"t","type":"quantitative","axis":{"orient":"top","title":null,"labels":false,"tickSize":-8,"values":[-300,-200,-100,0,100,200,300]}},
    "y":{"field":"b","type":"quantitative","axis":{"orient":"right","title":null,"labels":false,"tickSize":-6,"values":[500,550,600]}}}},
  {"mark":{"type":"line","strokeOpacity":0,"clip":true},
   "encoding":{"x":{"field":"t","type":"quantitative","axis":{"orient":"bottom","title":null,"labels":false,"tickSize":-4,"values":[-280,-260,-240,-220,-180,-160,-140,-120,-80,-60,-40,-20,20,40,60,80,120,140,160,180,220,240,260,280,320,340]}},
    "y":{"field":"b","type":"quantitative","axis":{"orient":"left","title":null,"labels":false,"tickSize":-3,"values":[510,520,530,540,560,570,580,590,610,620,630]}}}},
  {"mark":{"type":"line","strokeOpacity":0,"clip":true},
   "encoding":{"x":{"field":"t","type":"quantitative","axis":{"orient":"top","title":null,"labels":false,"tickSize":-4,"values":[-280,-260,-240,-220,-180,-160,-140,-120,-80,-60,-40,-20,20,40,60,80,120,140,160,180,220,240,260,280,320,340]}},
    "y":{"field":"b","type":"quantitative","axis":{"orient":"right","title":null,"labels":false,"tickSize":-3,"values":[510,520,530,540,560,570,580,590,610,620,630]}}}},
  {"mark":{"type":"line","strokeOpacity":0,"clip":true},
   "encoding":{"x":{"field":"t","type":"quantitative","axis":null},
    "y":{"field":"b","type":"quantitative","axis":{"orient":"left","title":null,"ticks":false,"labelPadding":9,"values":[500,550,600]}}}}
 ],
 "resolve":{"axis":{"x":"independent","y":"independent"}}
},
{"width":601,"height":112,
 "layer":[
  {"mark":{"type":"line","color":"#00ff00","strokeWidth":1.4,"clip":true},
   "encoding":{"x":{"field":"t","type":"quantitative","scale":{"domain":[-306,360],"nice":false,"zero":false},"axis":{"orient":"bottom","title":null,"labels":false,"tickSize":-8,"values":[-300,-200,-100,0,100,200,300]}},
    "y":{"field":"c","type":"quantitative","scale":{"domain":[788,982],"nice":false,"zero":false},"axis":{"orient":"left","title":null,"labels":false,"tickSize":-6,"values":[800,850,900,950]}}}},
  {"mark":{"type":"line","strokeOpacity":0,"clip":true},
   "encoding":{"x":{"field":"t","type":"quantitative","axis":{"orient":"top","title":null,"labels":false,"tickSize":-8,"values":[-300,-200,-100,0,100,200,300]}},
    "y":{"field":"c","type":"quantitative","axis":{"orient":"right","title":null,"labels":false,"tickSize":-6,"values":[800,850,900,950]}}}},
  {"mark":{"type":"line","strokeOpacity":0,"clip":true},
   "encoding":{"x":{"field":"t","type":"quantitative","axis":{"orient":"bottom","title":null,"labels":false,"tickSize":-4,"values":[-280,-260,-240,-220,-180,-160,-140,-120,-80,-60,-40,-20,20,40,60,80,120,140,160,180,220,240,260,280,320,340]}},
    "y":{"field":"c","type":"quantitative","axis":{"orient":"left","title":null,"labels":false,"tickSize":-3,"values":[816.6667,833.3333,866.6667,883.3333,916.6667,933.3333,966.6667]}}}},
  {"mark":{"type":"line","strokeOpacity":0,"clip":true},
   "encoding":{"x":{"field":"t","type":"quantitative","axis":{"orient":"top","title":null,"labels":false,"tickSize":-4,"values":[-280,-260,-240,-220,-180,-160,-140,-120,-80,-60,-40,-20,20,40,60,80,120,140,160,180,220,240,260,280,320,340]}},
    "y":{"field":"c","type":"quantitative","axis":{"orient":"right","title":null,"labels":false,"tickSize":-3,"values":[816.6667,833.3333,866.6667,883.3333,916.6667,933.3333,966.6667]}}}},
  {"mark":{"type":"line","strokeOpacity":0,"clip":true},
   "encoding":{"x":{"field":"t","type":"quantitative","axis":null},
    "y":{"field":"c","type":"quantitative","axis":{"orient":"left","title":null,"ticks":false,"labelPadding":9,"values":[800,850,900,950]}}}}
 ],
 "resolve":{"axis":{"x":"independent","y":"independent"}}
},
{"width":601,"height":112,
 "layer":[
  {"mark":{"type":"line","color":"#0000ff","strokeWidth":1.4,"clip":true},
   "encoding":{"x":{"field":"t","type":"quantitative","scale":{"domain":[-306,360],"nice":false,"zero":false},"axis":{"orient":"bottom","title":null,"labels":false,"tickSize":-8,"values":[-300,-200,-100,0,100,200,300]}},
    "y":{"field":"d","type":"quantitative","scale":{"domain":[1200,1440],"nice":false,"zero":false},"axis":{"orient":"left","title":null,"labels":false,"tickSize":-6,"values":[1250,1300,1350,1400]}}}},
  {"mark":{"type":"line","strokeOpacity":0,"clip":true},
   "encoding":{"x":{"field":"t","type":"quantitative","axis":{"orient":"top","title":null,"labels":false,"tickSize":-8,"values":[-300,-200,-100,0,100,200,300]}},
    "y":{"field":"d","type":"quantitative","axis":{"orient":"right","title":null,"labels":false,"tickSize":-6,"values":[1250,1300,1350,1400]}}}},
  {"mark":{"type":"line","strokeOpacity":0,"clip":true},
   "encoding":{"x":{"field":"t","type":"quantitative","axis":{"orient":"bottom","title":null,"labels":false,"tickSize":-4,"values":[-280,-260,-240,-220,-180,-160,-140,-120,-80,-60,-40,-20,20,40,60,80,120,140,160,180,220,240,260,280,320,340]}},
    "y":{"field":"d","type":"quantitative","axis":{"orient":"left","title":null,"labels":false,"tickSize":-3,"values":[1216.6667,1233.3333,1266.6667,1283.3333,1316.6667,1333.3333,1366.6667,1383.3333,1416.6667,1433.3333]}}}},
  {"mark":{"type":"line","strokeOpacity":0,"clip":true},
   "encoding":{"x":{"field":"t","type":"quantitative","axis":{"orient":"top","title":null,"labels":false,"tickSize":-4,"values":[-280,-260,-240,-220,-180,-160,-140,-120,-80,-60,-40,-20,20,40,60,80,120,140,160,180,220,240,260,280,320,340]}},
    "y":{"field":"d","type":"quantitative","axis":{"orient":"right","title":null,"labels":false,"tickSize":-3,"values":[1216.6667,1233.3333,1266.6667,1283.3333,1316.6667,1333.3333,1366.6667,1383.3333,1416.6667,1433.3333]}}}},
  {"mark":{"type":"line","strokeOpacity":0,"clip":true},
   "encoding":{"x":{"field":"t","type":"quantitative","axis":{"orient":"bottom","title":null,"ticks":false,"labelPadding":4,"values":[-300,-200,-100,0,100,200,300]}},
    "y":{"field":"d","type":"quantitative","axis":{"orient":"left","title":null,"ticks":false,"labelPadding":9,"values":[1250,1300,1350,1400]}}}}
 ],
 "resolve":{"axis":{"x":"independent","y":"independent"}}
}
],
"spacing":0,
"bounds":"flush"
}
